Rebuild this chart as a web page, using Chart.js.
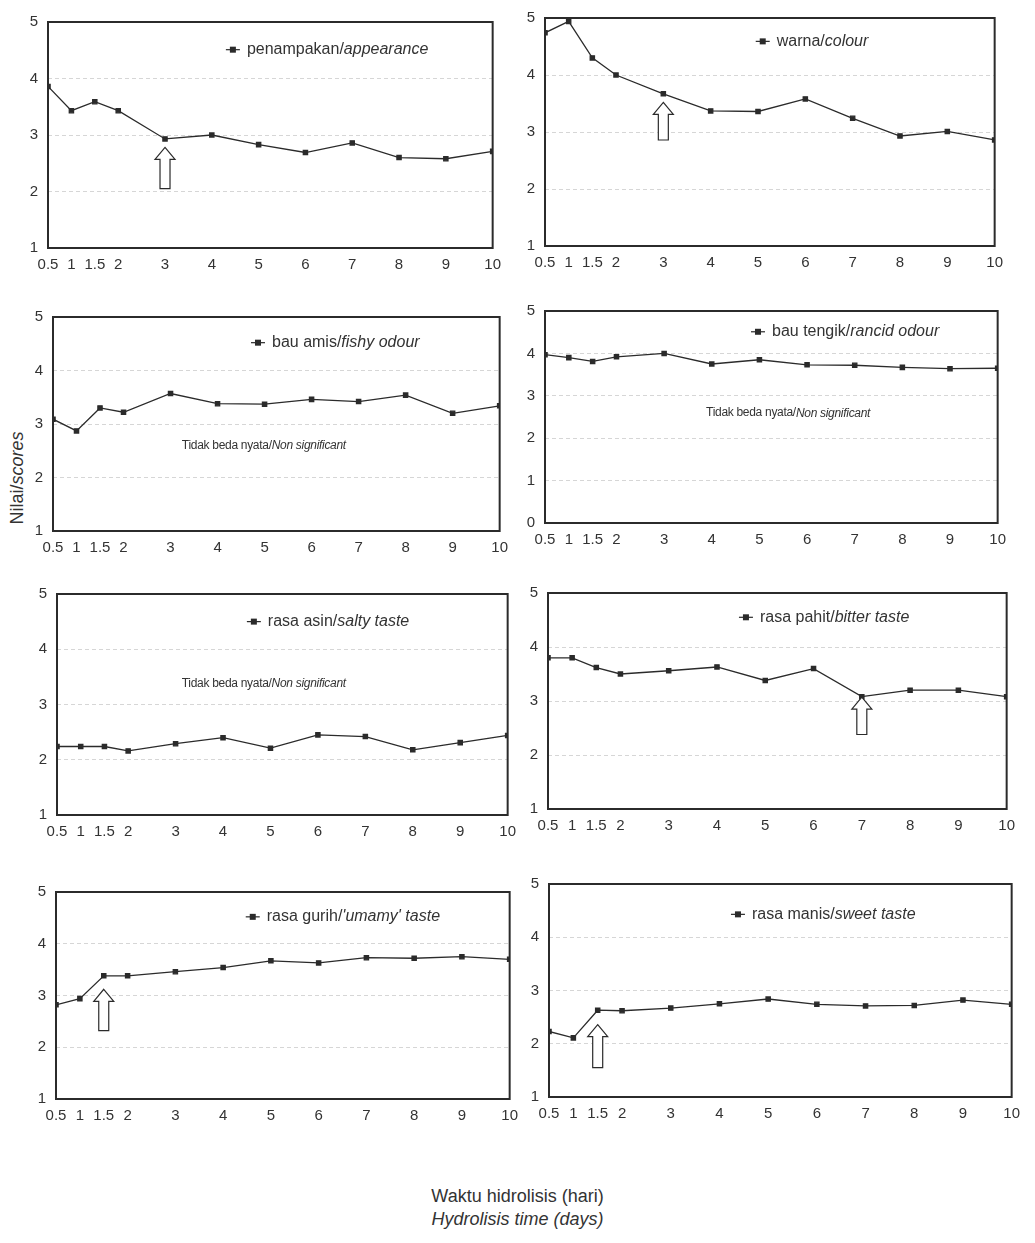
<!DOCTYPE html>
<html>
<head>
<meta charset="utf-8">
<title>Nilai sensori selama hidrolisis</title>
<script src="https://cdn.jsdelivr.net/npm/chart.js@4.4.0/dist/chart.umd.min.js"></script>
<style>
  body { margin: 0; background: #fff; width: 1035px; height: 1243px; position: relative; overflow: hidden;
         font-family: "Liberation Sans", Arial, sans-serif; color: #333; }
  .panel { position: absolute; }
  .ylabel { position: absolute; left: 17px; top: 478px; transform: translate(-50%, -50%) rotate(-90deg);
            font-size: 18px; white-space: nowrap; }
  .xlabel { position: absolute; left: 0; width: 1035px; text-align: center; font-size: 18px; }
</style>
</head>
<body>
<div class="ylabel">Nilai/<i>scores</i></div>
<div class="xlabel" style="top:1186px">Waktu hidrolisis (hari)</div>
<div class="xlabel" style="top:1209px"><i>Hydrolisis time (days)</i></div>

<script>
// hydrolysis time (days) and tick labels
const days = [0.5, 1, 1.5, 2, 3, 4, 5, 6, 7, 8, 9, 10];
const xTicks = [0.5, 1, 1.5, 2, 3, 4, 5, 6, 7, 8, 9, 10];
const xTickLabels = ['0.5', '1', '1.5', '2', '3', '4', '5', '6', '7', '8', '9', '10'];
const yTicks1to5 = [1, 2, 3, 4, 5];
const yTicks0to5 = [0, 1, 2, 3, 4, 5];

// sensory scores
const appearance = [3.86, 3.43, 3.59, 3.43, 2.93, 3.00, 2.83, 2.69, 2.86, 2.60, 2.58, 2.71];
const colour     = [4.74, 4.94, 4.30, 4.00, 3.67, 3.37, 3.36, 3.58, 3.24, 2.93, 3.01, 2.86];
const fishyOdour = [3.09, 2.87, 3.30, 3.22, 3.57, 3.38, 3.37, 3.46, 3.42, 3.54, 3.20, 3.34];
const rancidOdour = [3.97, 3.90, 3.81, 3.92, 4.00, 3.75, 3.85, 3.73, 3.72, 3.67, 3.64, 3.65];
const saltyTaste = [2.24, 2.24, 2.24, 2.16, 2.29, 2.40, 2.21, 2.45, 2.42, 2.18, 2.31, 2.44];
const bitterTaste = [3.80, 3.80, 3.62, 3.50, 3.56, 3.63, 3.38, 3.60, 3.08, 3.20, 3.20, 3.08];
const umamyTaste = [2.82, 2.94, 3.38, 3.38, 3.46, 3.54, 3.67, 3.63, 3.73, 3.72, 3.75, 3.70];
const sweetTaste = [2.23, 2.11, 2.63, 2.62, 2.67, 2.75, 2.84, 2.74, 2.71, 2.72, 2.82, 2.74];

const nonSig = 'Tidak beda nyata/';
const nonSigEn = 'Non significant';

// plot box of each panel in page pixels, plus its series and notes
const panels = [
  { box: [48, 13, 493, 248], data: appearance, ticks: yTicks1to5, name: 'penampakan/', nameEn: 'appearance',
    leg: [4.45, 4.51], arrow: [3, 2.78, 2.05] },
  { box: [545, 9, 995, 246], data: colour, ticks: yTicks1to5, name: 'warna/', nameEn: 'colour',
    leg: [5.1, 4.59], arrow: [3, 3.52, 2.86] },
  { box: [53, 308, 500, 531], data: fishyOdour, ticks: yTicks1to5, name: 'bau amis/', nameEn: 'fishy odour',
    leg: [4.86, 4.52], note: [3.24, 2.6] },
  { box: [545, 302, 998, 523], data: rancidOdour, ticks: yTicks0to5, name: 'bau tengik/', nameEn: 'rancid odour',
    leg: [4.97, 4.51], note: [3.88, 2.59] },
  { box: [57, 585, 508, 815], data: saltyTaste, ticks: yTicks1to5, name: 'rasa asin/', nameEn: 'salty taste',
    leg: [4.65, 4.5], note: [3.13, 3.38] },
  { box: [548, 584, 1007, 809], data: bitterTaste, ticks: yTicks1to5, name: 'rasa pahit/', nameEn: 'bitter taste',
    leg: [4.6, 4.55], arrow: [7, 3.07, 2.38] },
  { box: [56, 883, 510, 1099], data: umamyTaste, ticks: yTicks1to5, name: 'rasa gurih/', nameEn: "'umamy' taste",
    leg: [4.62, 4.52], arrow: [1.5, 3.12, 2.32] },
  { box: [549, 875, 1012, 1097], data: sweetTaste, ticks: yTicks1to5, name: 'rasa manis/', nameEn: 'sweet taste',
    leg: [4.38, 4.43], arrow: [1.5, 2.36, 1.55] }
];

const INK = '#2b2b2b';
const FONT = '"Liberation Sans", Arial, sans-serif';
const Y_W = 42, X_H = 30, PAD_T = 10, PAD_R = 16;

// frame, legend text, notes and arrows drawn on top of each panel
const decorations = {
  id: 'decorations',
  afterDraw(chart, args, opts) {
    const p = opts.panel;
    const { ctx, chartArea: a } = chart;
    const xs = chart.scales.x, ys = chart.scales.y;
    ctx.save();
    ctx.strokeStyle = INK;
    ctx.lineWidth = 2;
    ctx.strokeRect(a.left, a.top, a.right - a.left, a.bottom - a.top);

    // legend entry
    const lx = xs.getPixelForValue(p.leg[0]), ly = ys.getPixelForValue(p.leg[1]);
    ctx.lineWidth = 1.2;
    ctx.beginPath();
    ctx.moveTo(lx - 7, ly); ctx.lineTo(lx + 7, ly); ctx.stroke();
    ctx.fillStyle = INK;
    ctx.fillRect(lx - 3, ly - 3, 6, 6);
    ctx.textBaseline = 'middle';
    ctx.fillStyle = '#333';
    ctx.font = '16px ' + FONT;
    let tx = lx + 14;
    ctx.fillText(p.name, tx, ly);
    tx += ctx.measureText(p.name).width;
    ctx.font = 'italic 16px ' + FONT;
    ctx.fillText(p.nameEn, tx, ly);

    if (p.note) {
      const nx = xs.getPixelForValue(p.note[0]), ny = ys.getPixelForValue(p.note[1]);
      ctx.letterSpacing = '-0.3px';
      ctx.font = '12px ' + FONT;
      ctx.fillText(nonSig, nx, ny);
      const w = ctx.measureText(nonSig).width;
      ctx.font = 'italic 12px ' + FONT;
      ctx.fillText(nonSigEn, nx + w, ny);
      ctx.letterSpacing = '0px';
    }

    if (p.arrow) {
      const ax = xs.getPixelForValue(p.arrow[0]);
      const tip = ys.getPixelForValue(p.arrow[1]), base = ys.getPixelForValue(p.arrow[2]);
      const hw = 10, sw = 5, hh = 12;
      ctx.beginPath();
      ctx.moveTo(ax, tip);
      ctx.lineTo(ax + hw, tip + hh);
      ctx.lineTo(ax + sw, tip + hh);
      ctx.lineTo(ax + sw, base);
      ctx.lineTo(ax - sw, base);
      ctx.lineTo(ax - sw, tip + hh);
      ctx.lineTo(ax - hw, tip + hh);
      ctx.closePath();
      ctx.fillStyle = '#fff';
      ctx.fill();
      ctx.strokeStyle = INK;
      ctx.lineWidth = 1.2;
      ctx.stroke();
    }
    ctx.restore();
  }
};

panels.forEach((p) => {
  const [l, t, r, b] = p.box;
  const div = document.createElement('div');
  div.className = 'panel';
  div.style.left = (l - Y_W) + 'px';
  div.style.top = (t - PAD_T) + 'px';
  div.style.width = (r - l + Y_W + PAD_R) + 'px';
  div.style.height = (b - t + PAD_T + X_H) + 'px';
  const canvas = document.createElement('canvas');
  div.appendChild(canvas);
  document.body.appendChild(div);

  const yMin = p.ticks[0], yMax = p.ticks[p.ticks.length - 1];
  new Chart(canvas, {
    type: 'line',
    data: {
      datasets: [{
        data: days.map((d, i) => ({ x: d, y: p.data[i] })),
        borderColor: INK,
        borderWidth: 1.3,
        pointStyle: 'rect',
        pointRadius: 3,
        pointBackgroundColor: INK,
        pointBorderColor: INK,
        tension: 0
      }]
    },
    options: {
      responsive: true,
      maintainAspectRatio: false,
      animation: false,
      layout: { padding: { top: PAD_T, right: PAD_R, left: 0, bottom: 0 } },
      plugins: {
        legend: { display: false },
        tooltip: { enabled: false },
        decorations: { panel: p }
      },
      scales: {
        x: {
          type: 'linear', min: 0.5, max: 10,
          afterBuildTicks: (s) => { s.ticks = xTicks.map((v) => ({ value: v })); },
          afterFit: (s) => { s.height = X_H; },
          grid: { display: false, drawTicks: false },
          border: { display: false },
          ticks: {
            color: '#333', font: { size: 15, family: FONT }, padding: 8, maxRotation: 0, autoSkip: false,
            callback: (v, i) => xTickLabels[i]
          }
        },
        y: {
          min: yMin, max: yMax,
          afterBuildTicks: (s) => { s.ticks = p.ticks.map((v) => ({ value: v })); },
          afterFit: (s) => { s.width = Y_W; },
          grid: {
            drawTicks: false,
            color: (c) => (c.tick && (c.tick.value === yMin || c.tick.value === yMax)) ? 'rgba(0,0,0,0)' : '#d6d6d6'
          },
          border: { display: false, dash: [4, 3] },
          ticks: { color: '#333', font: { size: 15, family: FONT }, padding: 10, callback: (v) => String(v) }
        }
      }
    },
    plugins: [decorations]
  });
});
</script>
</body>
</html>
